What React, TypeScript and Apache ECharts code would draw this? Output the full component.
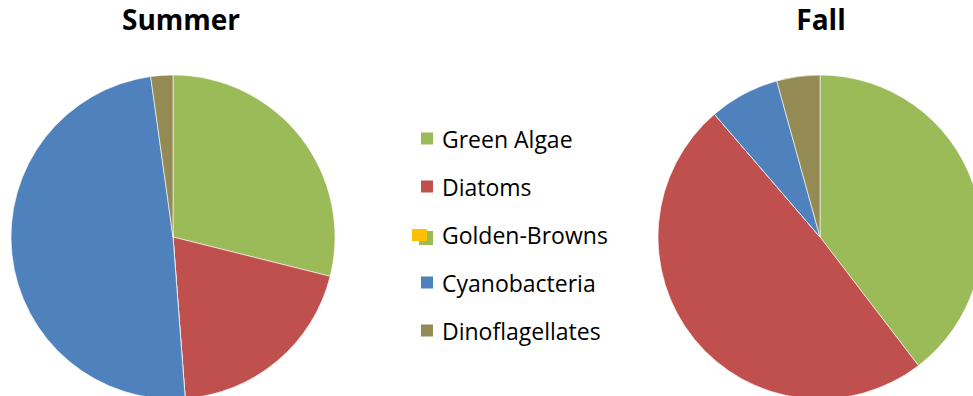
import React, { useEffect, useRef } from "react";
import * as echarts from "echarts";

const categories = ["Green Algae", "Diatoms", "Golden-Browns", "Cyanobacteria", "Dinoflagellates"];
const summerValues = [28.9, 19.9, 0, 49.0, 2.2];
const fallValues = [39.6, 49.1, 0, 7.0, 4.3];
const colors = ["#9BBB59", "#C0504D", "#FFC000", "#4F81BD", "#948A54"];

export default function App() {
  const ref = useRef<HTMLDivElement>(null);
  useEffect(() => {
    if (!ref.current) return;
    const chart = echarts.init(ref.current, null, { renderer: "svg" });
    const mk = (vals: number[]) => categories.map((n, i) => ({ name: n, value: vals[i] }));
    const pieBase = {
      type: "pie",
      radius: 162,
      startAngle: 90,
      clockwise: true,
      label: { show: false },
      labelLine: { show: false },
      itemStyle: { borderColor: "#ffffff", borderWidth: 0.6 },
      emphasis: { disabled: true },
    };
    const titleStyle = { fontFamily: "Open Sans", fontWeight: "bold", fontSize: 28, color: "#000" };
    chart.setOption({
      animation: false,
      color: colors,
      title: [
        { text: "Summer", left: 176, top: 0, textAlign: "center", textStyle: titleStyle },
        { text: "Fall", left: 816, top: 0, textAlign: "center", textStyle: titleStyle },
      ],
      legend: {
        orient: "vertical",
        left: 419,
        top: 127,
        padding: 0,
        itemWidth: 14,
        itemHeight: 14,
        itemGap: 25,
        icon: "rect",
        selectedMode: false,
        data: categories.map((n) =>
          n === "Golden-Browns" ? { name: n, itemStyle: { color: "rgba(0,0,0,0)" } } : { name: n }
        ),
        textStyle: { fontFamily: "Open Sans", fontSize: 23, color: "#000", lineHeight: 22, padding: [0, 0, 0, 3] },
      },
      graphic: [
        { type: "rect", z: 10, shape: { x: 419, y: 231, width: 14, height: 14 }, style: { fill: "#9BBB59" } },
        { type: "rect", z: 11, shape: { x: 412, y: 229, width: 15, height: 12 }, style: { fill: "#FFC000" } },
      ],
      series: [
        { ...pieBase, name: "Summer", center: [173, 237], data: mk(summerValues) },
        { ...pieBase, name: "Fall", center: [820, 237], data: mk(fallValues) },
      ],
    });
    return () => chart.dispose();
  }, []);
  return (
    <div
      ref={ref}
      style={{ position: "fixed", left: 0, top: 0, width: 973, height: 396, background: "#fff" }}
    />
  );
}
